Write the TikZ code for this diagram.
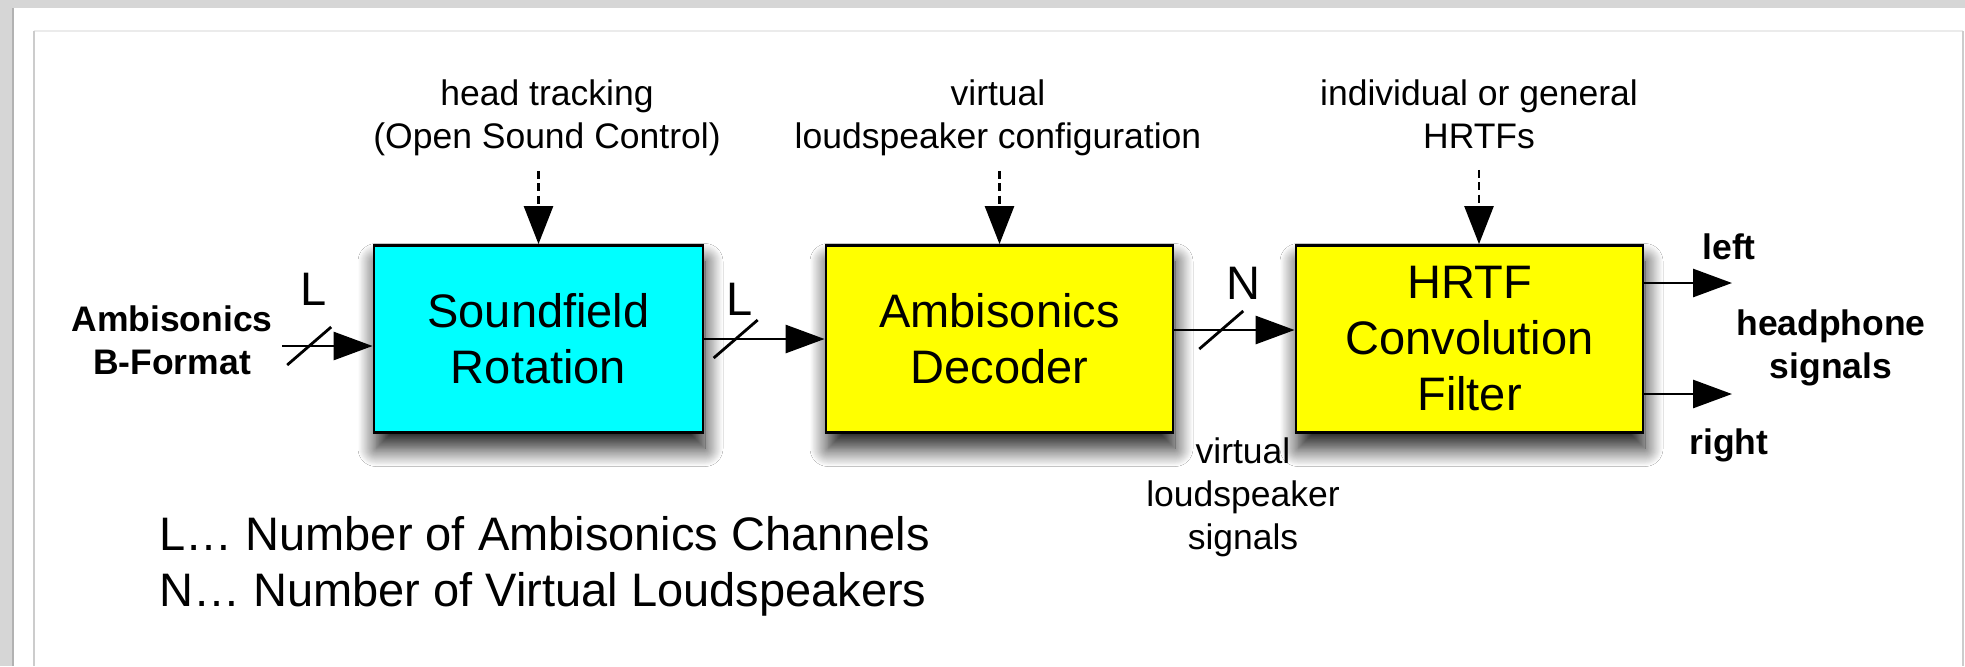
\documentclass[tikz,border=0pt]{standalone}
\usepackage{fontspec}
\setmainfont{Liberation Sans}
\usetikzlibrary{arrows.meta,calc,shadows.blur}

\definecolor{rotcyan}{RGB}{0,255,255}
\definecolor{procyellow}{RGB}{255,255,0}

\tikzset{
  block/.style={draw, line width=1.4pt, minimum height=93.5pt, align=center,
    inner sep=0pt, font=\fontsize{23.5pt}{28pt}\selectfont,
    blur shadow={shadow xshift=1pt, shadow yshift=-8pt,
      shadow blur radius=9pt, shadow blur steps=20, shadow opacity=90}},
  lbltext/.style={align=center, inner sep=0pt, font=\fontsize{17.75pt}{21.5pt}\selectfont},
  boldtext/.style={lbltext, font=\fontsize{17.75pt}{21.5pt}\selectfont\bfseries},
  chan/.style={inner sep=0pt, font=\fontsize{23.5pt}{28pt}\selectfont},
  sig/.style={line width=1.4pt, -{Triangle[length=19.5pt,width=14pt]}},
  ctrl/.style={line width=1.3pt, dash pattern=on 4pt off 2.2pt,
    -{Triangle[length=19pt,width=14.5pt]}},
  busmark/.style={line width=1.4pt}
}

\begin{document}
\begin{tikzpicture}[x=0.5pt,y=-0.5pt]
  \useasboundingbox (0,0) rectangle (1965,666);
  % page
  \fill[black!16] (0,0) rectangle (1965,666);
  \fill[white] (12,8) rectangle (1965,666);
  \draw[black!30, line width=1pt] (12.5,8) -- (12.5,666);
  \draw[black!8, line width=1pt] (33.5,31) -- (1963,31);
  \draw[black!20, line width=1pt] (33.5,666) -- (33.5,31);
  \draw[black!20, line width=1pt] (1963,31) -- (1963,666);

  % blocks
  \node[block, fill=rotcyan, minimum width=164.5pt] (rot) at (538.5,339) {Soundfield\\Rotation};
  \node[block, fill=procyellow, minimum width=173.5pt] (dec) at (999.5,339) {Ambisonics\\Decoder};
  \node[block, fill=procyellow, minimum width=173.5pt] (hrtf) at (1469.5,339) {HRTF\\Convolution\\Filter};

  % control inputs
  \node[lbltext, anchor=north] (trk) at (547,79) {head tracking\\(Open Sound Control)};
  \node[lbltext, anchor=north] (cfg) at (998,79) {virtual\\loudspeaker configuration};
  \node[lbltext, anchor=north] (hrtfs) at (1479,79) {individual or general\\HRTFs};
  \draw[ctrl, shorten <=7.5pt] (trk.south -| rot.north) -- (rot.north);
  \draw[ctrl, shorten <=7.5pt] (cfg.south -| dec.north) -- (dec.north);
  \draw[ctrl, shorten <=10.5pt] (hrtfs.south) -- (hrtfs.south |- hrtf.north);

  % signal path
  \node[boldtext] (bfmt) at (172,340) {Ambisonics\\B-Format};
  \coordinate (inA) at (282,346);
  \coordinate (inB) at (inA -| rot.west);
  \coordinate (decout) at ([yshift=4.5pt]dec.east);
  \coordinate (hrtfin) at ([yshift=4.5pt]hrtf.west);
  \draw[sig] (inA) -- (inB);
  \draw[sig] (rot.east) -- (dec.west);
  \draw[sig] (decout) -- (hrtfin);

  \draw[busmark] ($(inA)!.30!(inB)$) ++(-11pt,-9.5pt) -- ++(22pt,19pt);
  \draw[busmark] ($(rot.east)!.26!(dec.west)$) ++(-11pt,-9.5pt) -- ++(22pt,19pt);
  \draw[busmark] ($(decout)!.39!(hrtfin)$) ++(-11pt,-9.5pt) -- ++(22pt,19pt);
  \node[chan] (chL1) at (314,289.5) {L};
  \node[chan] (chL2) at (740,299) {L};
  \node[chan] (chN) at (1243,283.5) {N};

  % outputs
  \coordinate (outL) at (1732,283);
  \coordinate (outR) at (1732,394);
  \draw[sig] (hrtf.east |- outL) -- (outL);
  \draw[sig] (hrtf.east |- outR) -- (outR);
  \node[boldtext] (lft) at (1729,246.5) {left};
  \node[boldtext] (rgt) at (1729,445.5) {right};
  \node[boldtext] (hp) at (1831,348) {headphone\\signals};
  \node[lbltext] (vls) at (1243,497) {virtual\\loudspeaker\\signals};

  % legend
  \node[chan, anchor=west, align=left] (key) at (159,566.5)
    {L… Number of Ambisonics Channels\\N… Number of Virtual Loudspeakers};
\end{tikzpicture}
\end{document}
